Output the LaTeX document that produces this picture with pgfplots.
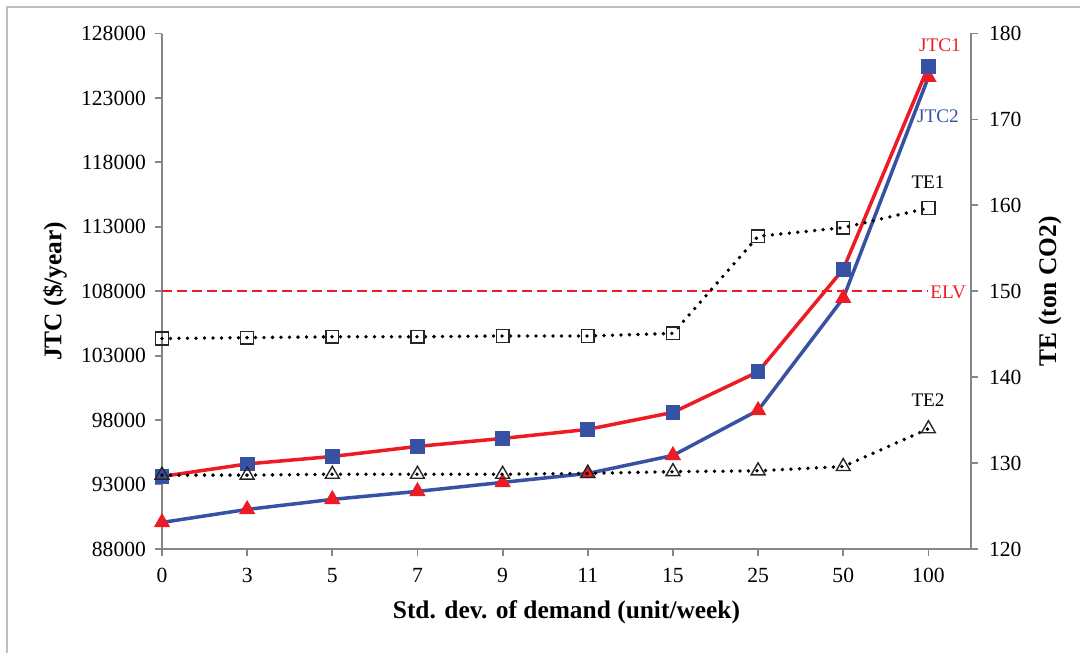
\documentclass[border=0pt]{standalone}
\usepackage{fontspec}
\setmainfont{Liberation Serif}
\usepackage{pgfplots}
\pgfplotsset{compat=1.18}

\definecolor{jred}{RGB}{237,28,36}
\definecolor{jblue}{RGB}{55,82,163}
\definecolor{axgray}{RGB}{134,134,134}
\definecolor{framegray}{RGB}{190,190,190}

\pgfplotsset{
  common/.style={
    scale only axis, width=404.5pt, height=257.75pt,
    xmin=0, xmax=9.5, clip=false,
    axis line style={axgray, line width=0.9pt},
    tick style={axgray, line width=0.9pt},
    tick align=outside, major tick length=3.5pt,
    tick label style={font=\fontsize{10.8}{12}\selectfont, black},
    scaled y ticks=false,
    yticklabel style={/pgf/number format/fixed, /pgf/number format/precision=0},
    /pgf/number format/assume math mode=true,
    /pgf/number format/set thousands separator={},
  },
  te/.style={black, line width=1.9pt, line cap=round,
    dash pattern=on 0pt off 4.25pt,
    mark options={solid, black!85, line width=0.7pt, fill=none}},
}
\tikzset{lbl/.style={font=\fontsize{9.6}{11}\selectfont, inner sep=0pt}}

\begin{document}
\begin{tikzpicture}
\useasboundingbox (-81pt,-52pt) rectangle (459pt,274.5pt);
\draw[framegray, line width=0.6pt] (-77.5pt,-52pt) -- (-77.5pt,271pt) -- (459pt,271pt);

% cost axis (left)
\begin{axis}[common,
  ymin=88000, ymax=128000, ytick={88000,93000,...,128000},
  axis x line*=bottom, axis y line*=left,
  xtick={0,...,9}, xticklabels={0,3,5,7,9,11,15,25,50,100},
  xticklabel style={yshift=-2.5pt},
  yticklabel style={xshift=-1pt},
  xlabel={Std. dev. of demand (unit/week)},
  ylabel={JTC (\$/year)},
  every axis x label/.style={at={(rel axis cs:0.5,0)}, yshift=-31.5pt, anchor=center,
    font=\bfseries\fontsize{12.7}{15}\selectfont},
  every axis y label/.style={at={(rel axis cs:0,0.5)}, xshift=-53.5pt, rotate=90, anchor=center,
    font=\bfseries\fontsize{12.7}{15}\selectfont},
]
% JTC2
\addplot[jblue, line width=1.75pt, mark=triangle*, mark size=3.0pt,
  mark options={jred, solid}] coordinates {
  (0,90060) (1,91070) (2,91850) (3,92470) (4,93170)
  (5,93860) (6,95260) (7,98760) (8,107460) (9,124620)};
% JTC1
\addplot[jred, line width=1.75pt, mark=square*, mark size=2.8pt,
  mark options={jblue, solid}] coordinates {
  (0,93630) (1,94600) (2,95180) (3,95960) (4,96580)
  (5,97280) (6,98600) (7,101750) (8,109710) (9,125440)};
\end{axis}

% emission axis (right)
\begin{axis}[common,
  ymin=120, ymax=180, ytick={120,130,...,180},
  axis y line*=right, axis x line=none,
  yticklabel style={xshift=2pt},
  ylabel={TE (ton CO2)},
  every axis y label/.style={at={(rel axis cs:1,0.5)}, xshift=39.5pt, rotate=90, anchor=center,
    font=\bfseries\fontsize{12.7}{15}\selectfont},
]
% emission limit
\addplot[jred, line width=1pt, dash pattern=on 5pt off 2.5pt] coordinates {(0,150) (9,150)};
% TE1
\addplot[te, mark=square, mark size=3.2pt] coordinates {
  (0,144.5) (1,144.6) (2,144.7) (3,144.7) (4,144.8)
  (5,144.8) (6,145.1) (7,156.4) (8,157.4) (9,159.7)};
% TE2
\addplot[te, mark=triangle, mark size=4.0pt] coordinates {
  (0,128.6) (1,128.6) (2,128.7) (3,128.7) (4,128.7)
  (5,128.8) (6,129.0) (7,129.1) (8,129.6) (9,134.0)};

\node[lbl, text=jred] at (rel axis cs:0.9617,0.9777) {JTC1};
\node[lbl, text=jblue] at (rel axis cs:0.9592,0.840) {JTC2};
\node[lbl] at (rel axis cs:0.9469,0.7119) {TE1};
\node[lbl] at (rel axis cs:0.9469,0.289) {TE2};
\node[lbl, text=jred, anchor=west] at (rel axis cs:0.9493,0.4985) {ELV};
\end{axis}
\end{tikzpicture}
\end{document}
